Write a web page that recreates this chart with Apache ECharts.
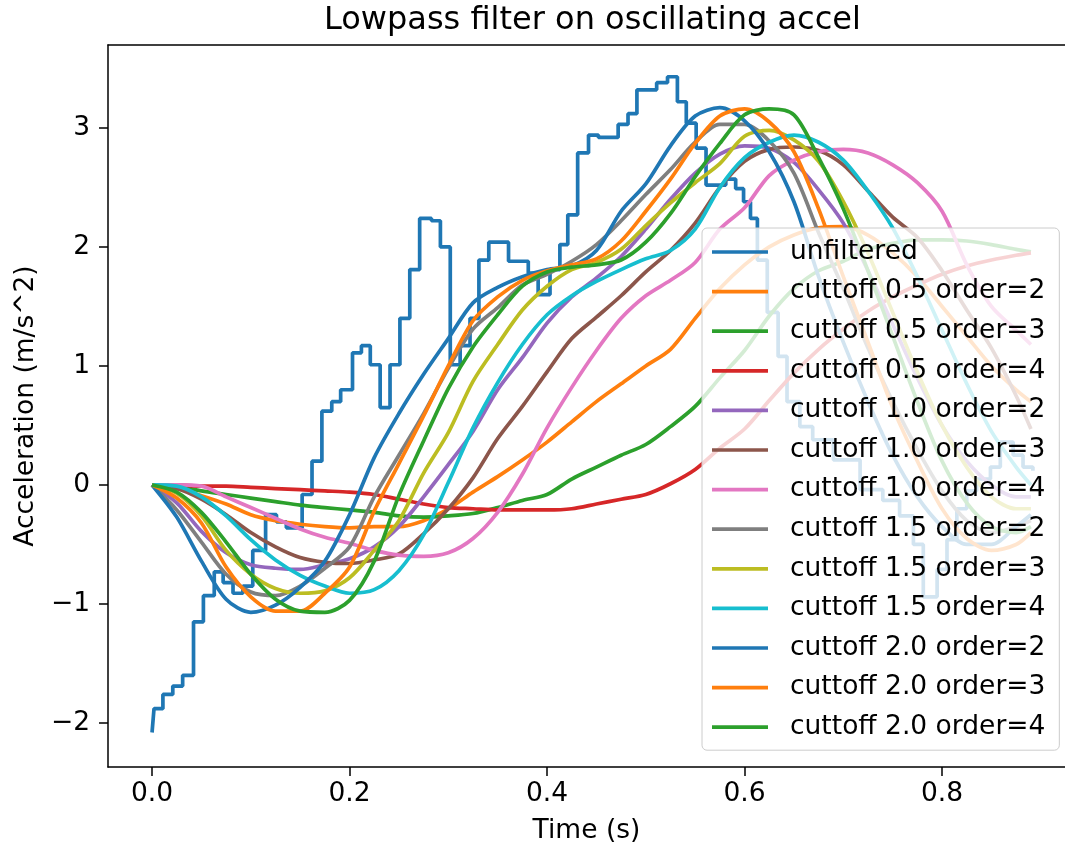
<!DOCTYPE html>
<html><head><meta charset="utf-8">
<script src="https://cdn.jsdelivr.net/npm/echarts@6/dist/echarts.min.js"></script>
<style>html,body{margin:0;padding:0;background:#fff}#chart{width:1065px;height:850px}</style>
</head><body><div id="chart"></div>
<script>
// ---------- data ----------
const titleText = 'Lowpass filter on oscillating accel';
const xName = 'Time (s)';
const yName = 'Acceleration (m/s^2)';
const xTicks = [0.0, 0.2, 0.4, 0.6, 0.8];
const yTicks = [-2, -1, 0, 1, 2, 3];

// unfiltered (step) signal
const rawTime = [0, 0.002, 0.011, 0.021, 0.031, 0.042, 0.052, 0.063, 0.072, 0.082, 0.092, 0.102, 0.115, 0.126, 0.136, 0.152, 0.162, 0.172, 0.182, 0.191, 0.203, 0.212, 0.221, 0.231, 0.241, 0.251, 0.261, 0.271, 0.283, 0.292, 0.302, 0.312, 0.322, 0.331, 0.341, 0.361, 0.381, 0.391, 0.403, 0.413, 0.421, 0.431, 0.442, 0.452, 0.472, 0.482, 0.491, 0.511, 0.522, 0.532, 0.541, 0.551, 0.561, 0.581, 0.591, 0.599, 0.606, 0.613, 0.623, 0.634, 0.643, 0.656, 0.669, 0.690, 0.717, 0.740, 0.757, 0.771, 0.781, 0.795, 0.805, 0.815, 0.825, 0.835, 0.849, 0.859, 0.872, 0.882, 0.892];
const rawValue = [-2.08, -1.88, -1.76, -1.69, -1.60, -1.15, -0.93, -0.73, -0.82, -0.91, -0.85, -0.55, -0.25, -0.31, -0.36, -0.08, 0.20, 0.62, 0.70, 0.80, 1.11, 1.17, 1.01, 0.65, 1.01, 1.40, 1.81, 2.24, 2.22, 2.00, 1.01, 1.17, 1.40, 1.89, 2.04, 1.88, 1.78, 1.60, 1.81, 2.02, 2.27, 2.79, 2.94, 2.92, 3.03, 3.12, 3.32, 3.38, 3.43, 3.22, 3.04, 2.83, 2.52, 2.57, 2.49, 2.38, 2.24, 1.89, 1.45, 1.08, 0.70, 0.49, 0.38, 0.21, -0.04, -0.13, -0.26, -0.50, -0.94, -0.71, -0.46, -0.20, -0.05, 0.05, 0.15, 0.36, 0.25, 0.15, 0.12];

// filtered signals share one time base
const time = [0, 0.025, 0.05, 0.075, 0.1, 0.125, 0.15, 0.175, 0.2, 0.225, 0.25, 0.275, 0.3, 0.325, 0.35, 0.375, 0.4, 0.425, 0.45, 0.475, 0.5, 0.525, 0.55, 0.575, 0.6, 0.625, 0.65, 0.675, 0.7, 0.725, 0.75, 0.775, 0.8, 0.825, 0.85, 0.875, 0.89];
const c05o2 = [0, -0.03, -0.09, -0.16, -0.25, -0.30, -0.33, -0.35, -0.36, -0.35, -0.35, -0.30, -0.20, -0.06, 0.07, 0.21, 0.36, 0.53, 0.70, 0.85, 1.00, 1.14, 1.40, 1.65, 1.85, 2.00, 2.10, 2.16, 2.17, 2.10, 1.95, 1.75, 1.50, 1.25, 1.00, 0.80, 0.70];
const c05o3 = [0, -0.01, -0.05, -0.08, -0.11, -0.14, -0.17, -0.19, -0.21, -0.23, -0.26, -0.27, -0.26, -0.24, -0.19, -0.13, -0.08, 0.05, 0.15, 0.25, 0.34, 0.49, 0.66, 0.90, 1.13, 1.42, 1.65, 1.80, 1.88, 1.98, 2.03, 2.06, 2.06, 2.05, 2.02, 1.98, 1.96];
const c05o4 = [0, 0, -0.01, -0.01, -0.02, -0.03, -0.04, -0.05, -0.06, -0.08, -0.12, -0.16, -0.19, -0.20, -0.21, -0.21, -0.21, -0.20, -0.16, -0.12, -0.08, 0.01, 0.13, 0.31, 0.47, 0.71, 0.94, 1.14, 1.31, 1.46, 1.58, 1.68, 1.77, 1.84, 1.89, 1.93, 1.95];
const c10o2 = [0, -0.15, -0.39, -0.57, -0.67, -0.70, -0.71, -0.67, -0.62, -0.52, -0.35, -0.10, 0.17, 0.45, 0.80, 1.07, 1.36, 1.58, 1.74, 1.92, 2.15, 2.40, 2.62, 2.78, 2.85, 2.83, 2.71, 2.48, 2.20, 1.80, 1.35, 0.90, 0.50, 0.20, 0.00, -0.10, -0.10];
const c10o3 = [0, -0.03, -0.12, -0.25, -0.40, -0.52, -0.61, -0.65, -0.66, -0.63, -0.58, -0.41, -0.20, 0.06, 0.39, 0.66, 0.95, 1.23, 1.41, 1.59, 1.79, 1.97, 2.20, 2.50, 2.72, 2.82, 2.84, 2.81, 2.69, 2.47, 2.25, 2.08, 1.80, 1.47, 1.15, 0.75, 0.47];
const c10o4 = [0, 0, -0.01, -0.10, -0.19, -0.28, -0.37, -0.44, -0.49, -0.55, -0.59, -0.60, -0.57, -0.45, -0.23, 0.09, 0.48, 0.82, 1.13, 1.40, 1.59, 1.72, 1.87, 2.15, 2.33, 2.60, 2.73, 2.80, 2.82, 2.79, 2.69, 2.54, 2.30, 1.85, 1.50, 1.30, 1.18];
const c15o2 = [0, -0.21, -0.48, -0.75, -0.90, -0.93, -0.85, -0.70, -0.52, -0.10, 0.25, 0.60, 0.98, 1.31, 1.49, 1.68, 1.77, 1.88, 2.02, 2.22, 2.44, 2.65, 2.88, 3.03, 3.03, 2.89, 2.62, 2.12, 1.65, 1.15, 0.70, 0.30, -0.05, -0.30, -0.40, -0.35, -0.30];
const c15o3 = [0, -0.07, -0.26, -0.55, -0.75, -0.87, -0.91, -0.89, -0.78, -0.55, -0.30, 0.10, 0.44, 0.87, 1.18, 1.47, 1.67, 1.81, 1.87, 1.98, 2.18, 2.37, 2.54, 2.70, 2.93, 2.98, 2.90, 2.72, 2.38, 1.95, 1.45, 0.95, 0.50, 0.15, -0.10, -0.20, -0.20];
const c15o4 = [0, -0.01, -0.10, -0.26, -0.46, -0.63, -0.76, -0.85, -0.91, -0.88, -0.72, -0.42, 0.02, 0.48, 0.86, 1.18, 1.43, 1.59, 1.71, 1.81, 1.90, 1.97, 2.15, 2.50, 2.75, 2.88, 2.94, 2.88, 2.73, 2.47, 2.16, 1.75, 1.30, 0.85, 0.45, 0.15, 0.00];
const c20o2 = [0, -0.27, -0.64, -0.96, -1.07, -1.01, -0.86, -0.64, -0.25, 0.23, 0.60, 0.93, 1.23, 1.53, 1.66, 1.75, 1.81, 1.84, 1.97, 2.30, 2.53, 2.85, 3.10, 3.17, 3.06, 2.80, 2.38, 1.75, 1.20, 0.70, 0.25, -0.10, -0.35, -0.50, -0.50, -0.35, -0.25];
const c20o3 = [0, -0.11, -0.32, -0.69, -0.94, -1.06, -1.06, -0.91, -0.69, -0.22, 0.18, 0.58, 1.00, 1.38, 1.58, 1.72, 1.80, 1.85, 1.90, 2.05, 2.30, 2.57, 2.87, 3.10, 3.16, 3.05, 2.80, 2.32, 1.75, 1.20, 0.65, 0.20, -0.20, -0.45, -0.55, -0.50, -0.40];
const c20o4 = [0, -0.06, -0.23, -0.48, -0.75, -0.96, -1.06, -1.07, -0.97, -0.64, -0.09, 0.37, 0.81, 1.16, 1.43, 1.67, 1.79, 1.83, 1.85, 1.89, 2.04, 2.28, 2.59, 2.87, 3.11, 3.16, 3.11, 2.75, 2.32, 1.80, 1.25, 0.70, 0.20, -0.15, -0.35, -0.40, -0.35];

const seriesNames = ['unfiltered', 'cuttoff 0.5 order=2', 'cuttoff 0.5 order=3', 'cuttoff 0.5 order=4', 'cuttoff 1.0 order=2', 'cuttoff 1.0 order=3', 'cuttoff 1.0 order=4', 'cuttoff 1.5 order=2', 'cuttoff 1.5 order=3', 'cuttoff 1.5 order=4', 'cuttoff 2.0 order=2', 'cuttoff 2.0 order=3', 'cuttoff 2.0 order=4'];
const seriesColors = ['#1f77b4', '#ff7f0e', '#2ca02c', '#d62728', '#9467bd', '#8c564b', '#e377c2', '#7f7f7f', '#bcbd22', '#17becf', '#1f77b4', '#ff7f0e', '#2ca02c'];
const filtered = [c05o2, c05o3, c05o4, c10o2, c10o3, c10o4, c15o2, c15o3, c15o4, c20o2, c20o3, c20o4];

// ---------- chart ----------
const FONT = 'DejaVu Sans';
const LW = 3.7;
const X_MIN = -0.0446, X_MAX = 0.9245;   // right spine falls just outside the picture
const series = [];
series.push({
  name: seriesNames[0], type: 'line', step: 'end', showSymbol: false, symbol: 'none',
  data: rawTime.map((t, i) => [t, rawValue[i]]),
  lineStyle: { color: seriesColors[0], width: LW }, itemStyle: { color: seriesColors[0] }
});
filtered.forEach((arr, k) => {
  series.push({
    name: seriesNames[k + 1], type: 'line', smooth: 0.3, showSymbol: false, symbol: 'none',
    data: time.map((t, i) => [t, arr[i]]),
    lineStyle: { color: seriesColors[k + 1], width: LW }, itemStyle: { color: seriesColors[k + 1] }
  });
});

const minus = v => (v < 0 ? '\u2212' : '') + Math.abs(v);
const spine = { show: true, onZero: false, lineStyle: { color: '#000', width: 1.5 } };
const chart = echarts.init(document.getElementById('chart'), null, { renderer: 'canvas' });
chart.setOption({
  animation: false,
  backgroundColor: '#ffffff',
  title: {
    text: titleText, left: 319, top: 0,
    textStyle: { fontFamily: FONT, fontSize: 32, fontWeight: 'normal', color: '#000' }
  },
  grid: { left: 108, top: 45, width: 957, height: 722, show: false },
  legend: {
    orient: 'vertical', left: 702, top: 228,
    data: seriesNames, icon: 'rect', itemWidth: 56, itemHeight: 3.7, itemGap: 12.6,
    padding: [10.5, 14, 9.5, 10],
    backgroundColor: 'rgba(255,255,255,0.8)', borderColor: '#cccccc', borderWidth: 1, borderRadius: 5,
    selectedMode: false,
    textStyle: { fontFamily: FONT, fontSize: 26.5, color: '#000', lineHeight: 27, padding: [0, 0, 0, 17] }
  },
  xAxis: [{
    type: 'value', position: 'bottom', min: X_MIN, max: X_MAX,
    splitLine: { show: false }, axisLine: spine,
    axisTick: { show: true, inside: false, customValues: xTicks, length: 9, lineStyle: { color: '#000', width: 1.5 } },
    axisLabel: { customValues: xTicks, formatter: v => v.toFixed(1), fontFamily: FONT, fontSize: 26.5, color: '#000', margin: 14 },
    name: xName, nameLocation: 'middle', nameGap: 51,
    nameTextStyle: { fontFamily: FONT, fontSize: 26.5, color: '#000' }
  }, {
    type: 'value', position: 'top', min: X_MIN, max: X_MAX,
    splitLine: { show: false }, axisLine: spine,
    axisTick: { show: false }, axisLabel: { show: false }
  }],
  yAxis: {
    type: 'value', min: -2.370, max: 3.697,
    splitLine: { show: false }, axisLine: spine,
    axisTick: { show: true, inside: false, customValues: yTicks, length: 9, lineStyle: { color: '#000', width: 1.5 } },
    axisLabel: { customValues: yTicks, formatter: minus, fontFamily: FONT, fontSize: 26.5, color: '#000', margin: 18 },
    name: yName, nameLocation: 'middle', nameGap: 65,
    nameTextStyle: { fontFamily: FONT, fontSize: 26.5, color: '#000' }
  },
  series: series
});
</script></body></html>
